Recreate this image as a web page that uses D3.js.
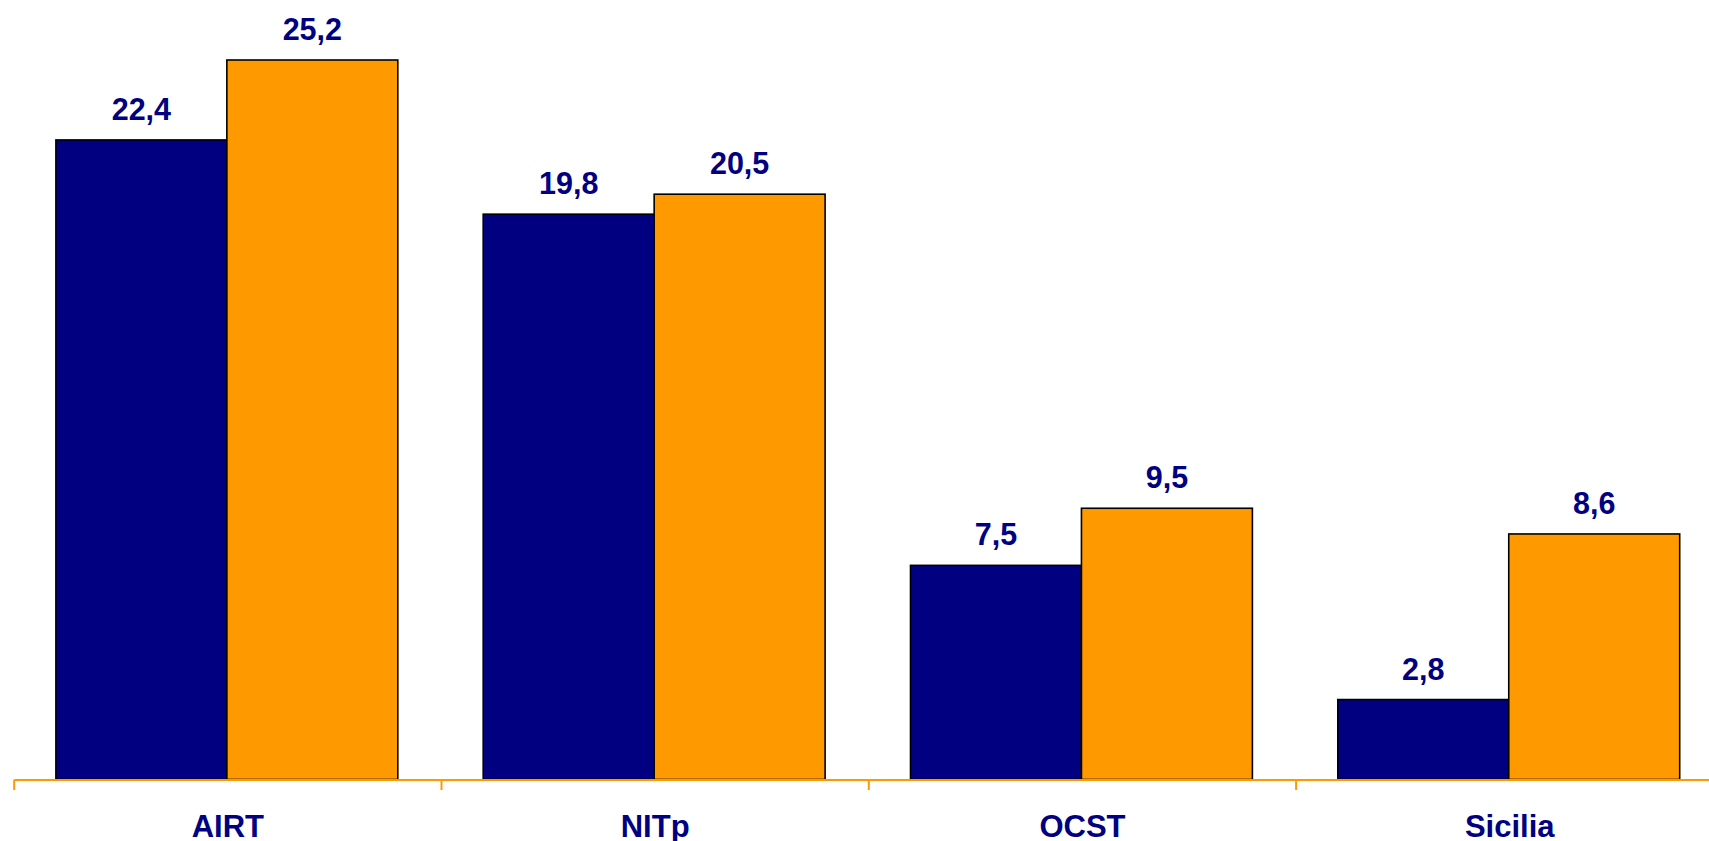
<!DOCTYPE html>
<html><head><meta charset="utf-8">
<script src="https://cdn.jsdelivr.net/npm/d3@7"></script>
<style>html,body{margin:0;padding:0;background:#fff;overflow:hidden}</style>
</head><body>
<svg id="c" width="1709" height="841"></svg>
<script>
const categories = ["AIRT", "NITp", "OCST", "Sicilia"];
const seriesNames = ["s1", "s2"];
const series1 = [22.4, 19.8, 7.5, 2.8];
const series2 = [25.2, 20.5, 9.5, 8.6];
const colors = ["#000080", "#FF9900"];

const svg = d3.select("#c");
const baseY = 779.5;
const x = d3.scaleBand().domain(categories).range([14.2, 14.2 + 427.3 * 4]).paddingInner(0).paddingOuter(0);
const xs = d3.scaleBand().domain(seriesNames).range([41.7, x.bandwidth() - 43.7]).paddingInner(0).paddingOuter(0);
const y = d3.scaleLinear().domain([0, 25.2]).range([baseY, 60]);

const rows = categories.map((c, i) => ({c, vals: [series1[i], series2[i]]}));

const g = svg.append("g");
const grp = g.selectAll("g.grp").data(rows).join("g").attr("transform", d => `translate(${x(d.c)},0)`);
grp.selectAll("rect").data(d => d.vals.map((v, j) => ({v, s: seriesNames[j], j})))
  .join("rect")
  .attr("x", d => xs(d.s)).attr("width", xs.bandwidth())
  .attr("y", d => y(d.v)).attr("height", d => baseY - y(d.v))
  .attr("fill", d => colors[d.j]).attr("stroke", "#000").attr("stroke-width", 1.6);
grp.selectAll("text").data(d => d.vals.map((v, j) => ({v, s: seriesNames[j], j})))
  .join("text")
  .attr("x", d => xs(d.s) + xs.bandwidth() / 2)
  .attr("y", d => y(d.v) - 20)
  .attr("text-anchor", "middle")
  .attr("font-family", "Liberation Sans, Arial, sans-serif")
  .attr("font-weight", "bold").attr("font-size", 30.5)
  .attr("fill", "#000080")
  .text(d => d3.format(".1f")(d.v).replace(".", ","));

// axis
const axis = d3.axisBottom(x).tickSize(0).tickSizeOuter(0).tickFormat("");
const ax = svg.append("g").attr("transform", `translate(0,${baseY})`).call(axis);
ax.select(".domain").attr("stroke", "#FF9900").attr("stroke-width", 2.2);
ax.selectAll(".tick").remove();
const bounds = categories.map(c => x(c)).concat([x.range()[1]]);
ax.selectAll("line.sep").data(bounds).join("line").attr("class", "sep")
  .attr("x1", d => d).attr("x2", d => d).attr("y1", 0).attr("y2", 10.5)
  .attr("stroke", "#FF9900").attr("stroke-width", 2);
ax.selectAll("text.cat").data(categories).join("text").attr("class", "cat")
  .attr("x", d => x(d) + x.bandwidth() / 2).attr("y", 57)
  .attr("text-anchor", "middle")
  .attr("font-family", "Liberation Sans, Arial, sans-serif")
  .attr("font-weight", "bold").attr("font-size", 31)
  .attr("fill", "#000080").text(d => d);
</script>
</body></html>
